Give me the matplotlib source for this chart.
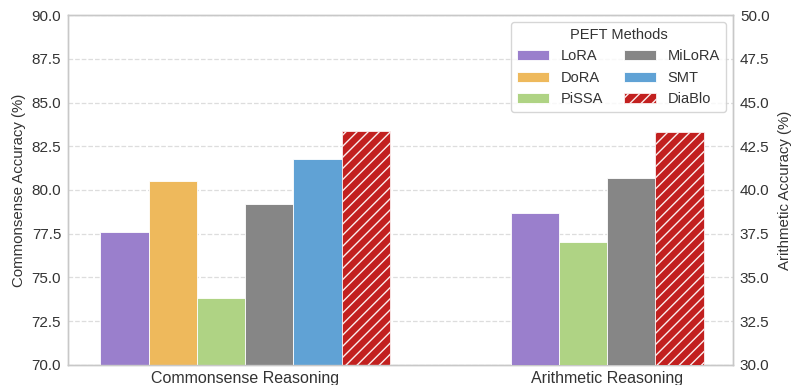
import matplotlib
matplotlib.use("Agg")
import matplotlib.pyplot as plt
import numpy as np
import seaborn as sns

# Accuracy results per PEFT method
methods = ["LoRA", "DoRA", "PiSSA", "MiLoRA", "SMT", "DiaBlo"]
commonsense_acc = [77.6, 80.5, 73.8, 79.2, 81.8, 83.4]
arith_methods = ["LoRA", "PiSSA", "MiLoRA", "DiaBlo"]
arithmetic_acc = [38.7, 37.0, 40.7, 43.3]
tasks = ["Commonsense Reasoning", "Arithmetic Reasoning"]

colors = {
    "LoRA": "#9a7fcc",
    "DoRA": "#eeb95c",
    "PiSSA": "#afd384",
    "MiLoRA": "#868686",
    "SMT": "#60a2d5",
    "DiaBlo": "#c2201f",
}
hatches = {"DiaBlo": "///"}

sns.set_style("whitegrid")
plt.rcParams["font.family"] = ["Liberation Sans", "DejaVu Sans"]
plt.rcParams["hatch.linewidth"] = 1.0
text_color = "#333333"

fig, ax1 = plt.subplots(figsize=(7.92, 3.85), dpi=100)
fig.subplots_adjust(left=0.086, right=0.9255, top=0.961, bottom=0.052)
ax2 = ax1.twinx()

width = 0.8 / len(methods)
handles = []
for i, m in enumerate(methods):
    x = 0 + (i - (len(methods) - 1) / 2) * width
    b = ax1.bar(x, commonsense_acc[i], width, bottom=0, color=colors[m],
                edgecolor="#fbeeee" if m in hatches else "white", linewidth=0.6,
                hatch=hatches.get(m, None), label=m, zorder=3)
    handles.append(b)

for j, m in enumerate(arith_methods):
    x = 1 + (j - (len(arith_methods) - 1) / 2) * width
    ax2.bar(x, arithmetic_acc[j], width, color=colors[m],
            edgecolor="#fbeeee" if m in hatches else "white",
            linewidth=0.6, hatch=hatches.get(m, None), zorder=3)

ax1.set_ylim(70, 90)
ax2.set_ylim(30, 50)
ax1.set_yticks(np.arange(70, 90.1, 2.5))
ax2.set_yticks(np.arange(30, 50.1, 2.5))
ax1.set_xlim(-0.489, 1.348)
ax1.set_xticks([0, 1])
ax1.set_xticklabels(tasks, fontsize=11.5, color=text_color)

ax1.set_ylabel("Commonsense Accuracy (%)", fontsize=10.8, color=text_color)
ax2.set_ylabel("Arithmetic Accuracy (%)", fontsize=10.8, color=text_color, labelpad=6)
for ax in (ax1, ax2):
    ax.tick_params(axis="y", labelsize=11, colors=text_color, length=0, pad=5)
    ax.tick_params(axis="x", length=0, pad=4)
    for s in ax.spines.values():
        s.set_color("#c8c8c8")
        s.set_linewidth(1.0)

ax1.grid(axis="y", linestyle="--", color="#dddddd", linewidth=0.9)
ax1.grid(axis="x", visible=False)
ax2.grid(False)

leg = ax2.legend(handles, methods, title="PEFT Methods", ncol=2, loc="upper right",
                 fontsize=10.5, title_fontsize=10.5, frameon=True, columnspacing=1.4,
                 handlelength=2.2)
leg.get_frame().set_edgecolor("#cccccc")
for t in leg.get_texts():
    t.set_color(text_color)
leg.get_title().set_color(text_color)

fig.savefig("out.png", dpi=100)
